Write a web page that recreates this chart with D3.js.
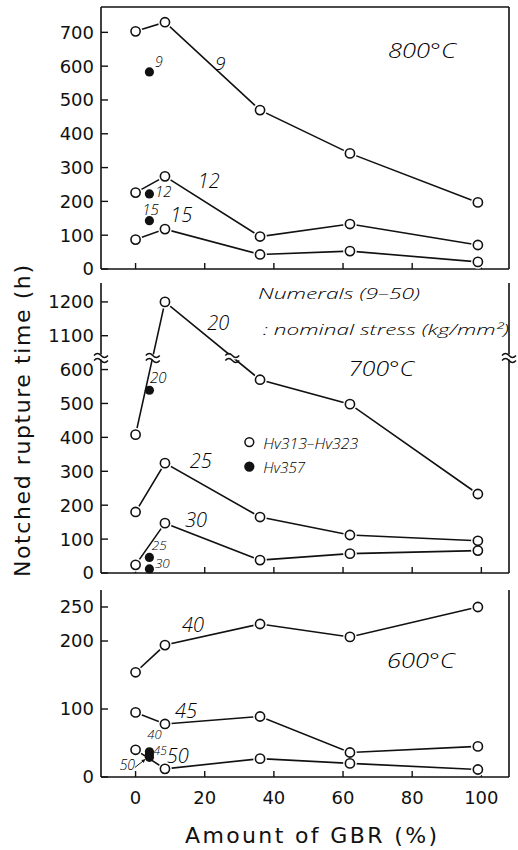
<!DOCTYPE html>
<html>
<head>
<meta charset="utf-8">
<script src="https://cdn.jsdelivr.net/npm/d3@7/dist/d3.min.js"></script>
<style>
  html, body { margin: 0; padding: 0; background: #fff; }
  svg { display: block; }
  .tick-label { font-family: "DejaVu Sans", sans-serif; font-size: 18px; fill: #111; }
  .note { font-family: "Open Sans", "Liberation Sans", sans-serif; font-style: italic; font-weight: 300; fill: #000; }
</style>
</head>
<body>
<div id="chart"></div>
<script>
// Notched rupture time vs amount of GBR, three test temperatures
const X_VALS = [0, 8.5, 36, 62, 99];   // GBR % for the open-circle series
const X_FILLED = 4;                      // GBR % of the Hv357 specimens
const X_TICKS = [0, 20, 40, 60, 80, 100];

// 800°C
const S800_9  = [703, 730, 470, 342, 197];
const S800_12 = [226, 274, 96, 133, 71];
const S800_15 = [87, 118, 43, 53, 21];
const F800 = [583, 222, 143];            // Hv357 : 9, 12, 15
const TICKS_800 = [0, 100, 200, 300, 400, 500, 600, 700];

// 700°C
const S700_20 = [408, 1200, 570, 498, 233];
const S700_25 = [180, 324, 165, 112, 95];
const S700_30 = [24, 147, 38, 57, 66];
const F700 = [539, 46, 12];              // Hv357 : 20, 25, 30
const TICKS_700 = [0, 100, 200, 300, 400, 500, 600, 1100, 1200];
const BREAK_700 = [637, 1037];           // axis cut

// 600°C
const S600_40 = [154, 194, 225, 206, 250];
const S600_45 = [95, 78, 89, 36, 45];
const S600_50 = [40, 12, 27, 20, 11];
const F600 = [37, 33, 29];               // Hv357 : 40, 45, 50
const TICKS_600 = [0, 100, 200, 250];

const W = 518, H = 850;
const L = 101, R = 509;

const svg = d3.select("#chart").append("svg")
  .attr("width", W).attr("height", H);

const x = d3.scaleLinear().domain([-10, 108]).range([L, R]);

const panels = [
  { top: 7, bottom: 269, frameTop: true,
    y: d3.scaleLinear().domain([0, 775]).range([269, 7]),
    ticks: TICKS_800, series: [S800_9, S800_12, S800_15], filled: F800,
    labels: [
      { t: "800°C", x: 73, y: 624, size: 21, len: 68 },
      { t: "9", x: 23, y: 589, size: 19 },
      { t: "9", x: 5.6, y: 598, size: 14 },
      { t: "12", x: 18, y: 240, size: 20 },
      { t: "12", x: 5.6, y: 213, size: 15 },
      { t: "15", x: 1.9, y: 160, size: 15 },
      { t: "15", x: 10, y: 139, size: 20 }
    ] },
  { top: 283, bottom: 573, frameTop: false,
    y: d3.scaleLinear().domain([0, BREAK_700[0], BREAK_700[1], 1256]).range([573, 357, 357, 283]),
    ticks: TICKS_700, series: [S700_20, S700_25, S700_30], filled: F700, cut: true,
    labels: [
      { t: "Numerals (9–50)", x: 35.4, y: 1210, size: 15, len: 162 },
      { t: ": nominal  stress  (kg/mm²)", x: 36.8, y: 1103, size: 15, len: 246 },
      { t: "700°C", x: 61.5, y: 581, size: 21, len: 66 },
      { t: "20", x: 20.7, y: 1118, size: 20 },
      { t: "20", x: 4.2, y: 561, size: 15 },
      { t: "25", x: 15.7, y: 310, size: 20 },
      { t: "30", x: 14.3, y: 136, size: 20 },
      { t: "25", x: 4.7, y: 67, size: 13.5 },
      { t: "30", x: 5.6, y: 14, size: 13.5 },
      { t: "Hv313–Hv323", x: 36.9, y: 366, size: 14, len: 95 },
      { t: "Hv357", x: 36.9, y: 295, size: 14, len: 42 }
    ],
    legend: [{ x: 32.9, y: 386, fill: false }, { x: 32.9, y: 314, fill: true }] },
  { top: 590, bottom: 777, frameTop: false,
    y: d3.scaleLinear().domain([0, 275]).range([777, 590]),
    ticks: TICKS_600, series: [S600_40, S600_45, S600_50], filled: F600,
    labels: [
      { t: "40", x: 13.4, y: 213, size: 20 },
      { t: "600°C", x: 72.7, y: 160, size: 21, len: 68 },
      { t: "45", x: 11.4, y: 87, size: 20 },
      { t: "40", x: 3.4, y: 56, size: 13 },
      { t: "45", x: 5.2, y: 32, size: 12 },
      { t: "50", x: 9, y: 20.6, size: 20 },
      { t: "50", x: -4.6, y: 10, size: 14 }
    ],
    arrows: [{ x1: -0.2, y1: 14, x2: 2.8, y2: 26 }] }
];

const line = d3.line();

// tilde pair used for axis cuts
function cutMark(g, cx, cy) {
  const m = g.append("g").attr("transform", `translate(${cx},${cy})`);
  m.append("rect").attr("x", -4).attr("y", -2.5).attr("width", 8).attr("height", 5).attr("fill", "#fff");
  [-2.5, 2.5].forEach(dy => {
    m.append("path")
      .attr("d", `M-7,${dy + 1} q3.5,-4 7,0 t7,0`)
      .attr("fill", "none").attr("stroke", "#111").attr("stroke-width", 1.4);
  });
}

panels.forEach(p => {
  const g = svg.append("g");
  const y = p.y;

  // frame
  const frame = g.append("g").attr("stroke", "#111").attr("stroke-width", 1.6).attr("fill", "none");
  frame.append("line").attr("x1", L).attr("x2", L).attr("y1", p.top).attr("y2", p.bottom);
  frame.append("line").attr("x1", R).attr("x2", R).attr("y1", p.top).attr("y2", p.bottom);
  frame.append("line").attr("x1", L).attr("x2", R).attr("y1", p.bottom).attr("y2", p.bottom);
  if (p.frameTop) frame.append("line").attr("x1", L).attr("x2", R).attr("y1", p.top).attr("y2", p.top);

  // y ticks (inward) + labels
  p.ticks.forEach(v => {
    g.append("line").attr("x1", L).attr("x2", L + 7).attr("y1", y(v)).attr("y2", y(v))
      .attr("stroke", "#111").attr("stroke-width", 1.4);
    g.append("text").attr("class", "tick-label")
      .attr("x", L - 7).attr("y", y(v)).attr("dy", "0.36em")
      .attr("text-anchor", "end").text(v);
  });
  // x ticks (inward)
  X_TICKS.forEach(v => {
    g.append("line").attr("x1", x(v)).attr("x2", x(v)).attr("y1", p.bottom).attr("y2", p.bottom - 6)
      .attr("stroke", "#111").attr("stroke-width", 1.4);
  });

  // series lines
  p.series.forEach(s => {
    const pts = X_VALS.map((xv, i) => [x(xv), y(s[i])]);
    g.append("path").attr("d", line(pts))
      .attr("fill", "none").attr("stroke", "#111").attr("stroke-width", 1.6);
    if (p.cut) {
      const yb = y(BREAK_700[0]);
      for (let i = 0; i < pts.length - 1; i++) {
        const a = s[i], b = s[i + 1];
        const crosses = (a < BREAK_700[0] && b > BREAK_700[1]) || (b < BREAK_700[0] && a > BREAK_700[1]);
        if (!crosses) continue;
        const t = (yb - pts[i][1]) / (pts[i + 1][1] - pts[i][1]);
        cutMark(g, pts[i][0] + t * (pts[i + 1][0] - pts[i][0]), yb);
      }
    }
  });

  if (p.cut) {
    cutMark(g, L, y(BREAK_700[0]));
    cutMark(g, R, y(BREAK_700[0]));
  }

  // white halos so lines stop short of the circles
  p.series.forEach(s => {
    g.selectAll(null).data(X_VALS.map((xv, i) => [xv, s[i]])).join("circle")
      .attr("cx", d => x(d[0])).attr("cy", d => y(d[1])).attr("r", 6.8).attr("fill", "#fff");
  });
  p.series.forEach(s => {
    g.selectAll(null).data(X_VALS.map((xv, i) => [xv, s[i]])).join("circle")
      .attr("cx", d => x(d[0])).attr("cy", d => y(d[1])).attr("r", 4.6)
      .attr("fill", "#fff").attr("stroke", "#111").attr("stroke-width", 1.6);
  });
  g.selectAll(null).data(p.filled).join("circle")
    .attr("cx", x(X_FILLED)).attr("cy", d => y(d)).attr("r", 4.6).attr("fill", "#111");

  // legend
  (p.legend || []).forEach(d => {
    g.append("circle").attr("cx", x(d.x)).attr("cy", y(d.y)).attr("r", 4.4)
      .attr("fill", d.fill ? "#111" : "#fff").attr("stroke", "#111").attr("stroke-width", 1.5);
  });

  (p.arrows || []).forEach(a => {
    const x1 = x(a.x1), y1 = y(a.y1), x2 = x(a.x2), y2 = y(a.y2);
    const ang = Math.atan2(y2 - y1, x2 - x1);
    g.append("line").attr("x1", x1).attr("y1", y1).attr("x2", x2).attr("y2", y2)
      .attr("stroke", "#111").attr("stroke-width", 1);
    g.append("path")
      .attr("d", `M${x2},${y2} L${x2 - 4 * Math.cos(ang - 0.5)},${y2 - 4 * Math.sin(ang - 0.5)} L${x2 - 4 * Math.cos(ang + 0.5)},${y2 - 4 * Math.sin(ang + 0.5)}Z`)
      .attr("fill", "#111");
  });

  // annotations
  p.labels.forEach(d => {
    const t = g.append("text").attr("class", "note")
      .attr("x", x(d.x)).attr("y", y(d.y))
      .attr("font-size", d.size).text(d.t);
    if (d.len) t.attr("textLength", d.len).attr("lengthAdjust", "spacingAndGlyphs");
  });
});

// x tick labels under the last panel
X_TICKS.forEach(v => {
  svg.append("text").attr("class", "tick-label")
    .attr("x", x(v)).attr("y", 804).attr("text-anchor", "middle")
    .attr("font-size", 20).text(v);
});

// axis titles
svg.append("text")
  .attr("transform", "translate(30,421) rotate(-90)")
  .attr("text-anchor", "middle")
  .attr("font-family", "DejaVu Sans, sans-serif").attr("font-size", 22)
  .attr("textLength", 312).attr("lengthAdjust", "spacing")
  .attr("fill", "#111")
  .text("Notched rupture time (h)");

svg.append("text")
  .attr("x", 311).attr("y", 843).attr("text-anchor", "middle")
  .attr("font-family", "DejaVu Sans, sans-serif").attr("font-size", 22)
  .attr("textLength", 252).attr("lengthAdjust", "spacing")
  .attr("fill", "#111")
  .text("Amount of GBR (%)");
</script>
</body>
</html>
